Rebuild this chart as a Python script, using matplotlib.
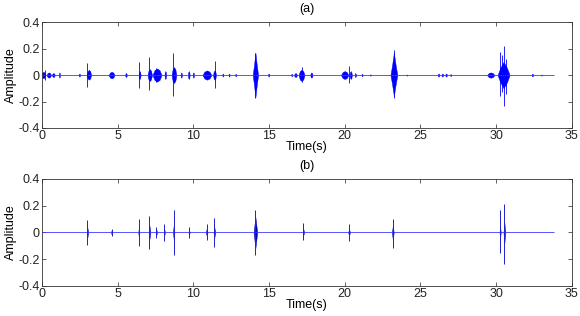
import matplotlib
matplotlib.use("Agg")
import matplotlib.pyplot as plt
from matplotlib.ticker import FixedLocator

plt.rcParams['font.family'] = ['Liberation Sans', 'DejaVu Sans']

# ---- data ----
signal_end = 33.8  # seconds

# Panel (a): dense bursts -> (center s, half-width s, upper amp, lower amp)
a_burst_t   = [0.1, 0.45, 0.75, 1.15, 2.47, 3.1, 4.6, 5.55, 6.45, 7.12, 7.6, 8.15, 8.72, 9.2, 9.7, 10.0,
               10.9, 11.4, 11.95, 12.36, 12.8, 14.1, 14.98, 16.5, 16.75, 17.15, 17.8, 20.0, 20.4, 20.7,
               21.15, 21.7, 23.25, 24.1, 26.2, 26.45, 26.7, 27.0, 29.65, 30.5, 32.4, 33.0]
a_burst_hw  = [0.12, 0.15, 0.1, 0.04, 0.05, 0.15, 0.2, 0.06, 0.07, 0.15, 0.3, 0.06, 0.16, 0.05, 0.06, 0.05,
               0.3, 0.1, 0.04, 0.04, 0.04, 0.18, 0.05, 0.04, 0.1, 0.2, 0.08, 0.25, 0.08, 0.05,
               0.04, 0.03, 0.23, 0.03, 0.06, 0.06, 0.06, 0.04, 0.25, 0.4, 0.06, 0.03]
a_burst_up  = [0.025, 0.02, 0.015, 0.02, 0.012, 0.04, 0.025, 0.015, 0.03, 0.045, 0.05, 0.03, 0.06, 0.02, 0.03, 0.02,
               0.035, 0.035, 0.012, 0.012, 0.01, 0.17, 0.012, 0.01, 0.015, 0.04, 0.02, 0.03, 0.03, 0.015,
               0.01, 0.006, 0.17, 0.005, 0.012, 0.012, 0.012, 0.008, 0.02, 0.1, 0.01, 0.005]
a_burst_dn  = [0.025, 0.02, 0.015, 0.02, 0.012, 0.035, 0.025, 0.015, 0.03, 0.045, 0.05, 0.03, 0.06, 0.02, 0.03, 0.02,
               0.035, 0.035, 0.012, 0.012, 0.01, 0.17, 0.012, 0.01, 0.015, 0.045, 0.02, 0.03, 0.03, 0.015,
               0.01, 0.006, 0.16, 0.005, 0.012, 0.012, 0.012, 0.008, 0.02, 0.1, 0.01, 0.005]
# shoulder height of each burst envelope (1 = flat block, small = pointed spindle)
a_burst_shoulder = [0.75] * 21 + [0.4] + [0.75] * 10 + [0.4] + [0.75] * 6 + [0.55] + [0.75] * 2
# Panel (a): sharp spikes -> (time s, max, min)
a_spike_t   = [0.2, 3.0, 6.4, 7.05, 7.5, 8.68, 11.4, 14.1, 17.2, 20.3, 23.27, 30.27, 30.4, 30.53, 30.65]
a_spike_max = [0.04, 0.093, 0.1, 0.133, 0.05, 0.17, 0.106, 0.17, 0.06, 0.068, 0.19, 0.176, 0.15, 0.22, 0.12]
a_spike_min = [-0.04, -0.093, -0.1, -0.11, -0.05, -0.16, -0.1, -0.17, -0.05, -0.063, -0.17, -0.16, -0.13, -0.235, -0.14]

# Panel (b): isolated events -> (time s, max, min)
b_spike_t   = [3.0, 4.6, 6.4, 7.1, 7.55, 8.08, 8.7, 9.72, 10.88, 11.39, 14.1, 17.27, 20.29, 23.18, 30.27, 30.55]
b_spike_max = [0.09, 0.027, 0.1, 0.125, 0.04, 0.065, 0.164, 0.04, 0.065, 0.105, 0.164, 0.07, 0.065, 0.1, 0.164, 0.21]
b_spike_min = [-0.097, -0.027, -0.1, -0.127, -0.04, -0.065, -0.167, -0.04, -0.06, -0.11, -0.17, -0.06, -0.065, -0.117, -0.154, -0.234]
b_core_hw   = [0.05, 0.04, 0.04, 0.06, 0.05, 0.04, 0.05, 0.04, 0.06, 0.06, 0.12, 0.05, 0.06, 0.06, 0.04, 0.06]
b_core_frac = [0.4, 0.6, 0.35, 0.4, 0.6, 0.4, 0.3, 0.5, 0.4, 0.35, 0.7, 0.35, 0.4, 0.5, 0.3, 0.35]

x_ticks = [0, 5, 10, 15, 20, 25, 30, 35]
y_ticks = [-0.4, -0.2, 0, 0.2, 0.4]
y_ticklabels = ['-0.4', '-0.2', '0', '0.2', '0.4']

BLUE = '#0000ff'

fig = plt.figure(figsize=(5.8, 3.16), dpi=100)
ax_a = fig.add_axes([0.0724, 0.595, 0.9133, 0.335])
ax_b = fig.add_axes([0.0724, 0.095, 0.9133, 0.3395])


def style(ax, title):
    ax.set_xlim(0, 35)
    ax.set_ylim(-0.4, 0.4)
    ax.xaxis.set_major_locator(FixedLocator(x_ticks))
    ax.set_yticks(y_ticks)
    ax.set_yticklabels(y_ticklabels)
    ax.tick_params(direction='in', top=True, right=True, length=3, width=0.5,
                   labelsize=9, pad=1.5, colors='#222222')
    for s in ax.spines.values():
        s.set_linewidth(0.6)
        s.set_color('#333333')
    ax.set_xlabel('Time(s)', fontsize=9, labelpad=-1)
    ax.set_ylabel('Amplitude', fontsize=9, labelpad=1)
    ax.set_title(title, fontsize=9, pad=7)


# panel (a)
ax_a.hlines(0, 0, signal_end, color='#3a3aff', lw=0.6)
for t, hw, up, dn, sh in zip(a_burst_t, a_burst_hw, a_burst_up, a_burst_dn, a_burst_shoulder):
    xs = [t - hw, t - 0.55 * hw, t, t + 0.55 * hw, t + hw]
    env = [0.0, sh, 1.0, sh, 0.0]
    ax_a.fill_between(xs, [-dn * f for f in env], [up * f for f in env], color=BLUE, lw=0.3)
ax_a.vlines(a_spike_t, a_spike_min, a_spike_max, color=BLUE, lw=0.6)
style(ax_a, '(a)')

# panel (b)
ax_b.hlines(0, 0, signal_end, color='#3a3aff', lw=0.6)
for t, hw, mx, mn, fr in zip(b_spike_t, b_core_hw, b_spike_max, b_spike_min, b_core_frac):
    ax_b.fill_between([t - hw, t, t + hw], [0, mn * fr, 0], [0, mx * fr, 0], color='#0000c0', lw=0.3)
ax_b.vlines(b_spike_t, b_spike_min, b_spike_max, color='#2020d0', lw=0.7)
style(ax_b, '(b)')

fig.savefig('out.png', dpi=100)
